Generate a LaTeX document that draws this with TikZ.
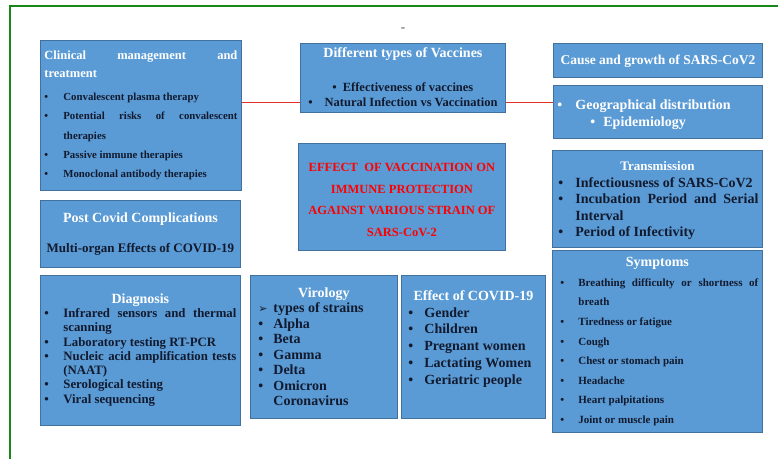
\documentclass[tikz,border=0pt]{standalone}
\usepackage{fontspec}
\setmainfont{Liberation Serif}
\newfontfamily\symfont{DejaVu Sans}

\definecolor{panelfill}{HTML}{5B9BD5}
\definecolor{panelline}{HTML}{41719C}
\definecolor{itemtxt}{HTML}{111A2E}
\definecolor{framegreen}{RGB}{24,134,24}
\definecolor{linkred}{RGB}{226,48,36}

\newlength\bulpad
\newlength\bulw
\newcommand{\fsz}[2]{\fontsize{#1}{#2}\selectfont}
\newcommand{\itm}[2][\textbullet]{\par\hangindent=\dimexpr\bulpad+\bulw\relax\hangafter=1\noindent\hspace*{\bulpad}\makebox[\bulw][l]{#1}#2\par}
\newcommand{\boxtext}[3]{\parbox[t][#2][t]{#1}{\hyphenpenalty=10000\exhyphenpenalty=10000 #3}}

\begin{document}
\begin{tikzpicture}[x=1pt,y=-1pt,
  panel/.style={draw=panelline,fill=panelfill,line width=0.8pt,anchor=north west,
    inner xsep=4pt,inner ysep=0pt,font=\bfseries},
  link/.style={linkred,line width=0.9pt},
  frame/.style={framegreen,line width=2.5pt}]
\useasboundingbox (0,0) rectangle (778,459);
\draw[frame] (10,459) -- (10,6) -- (778,6);
\node[text=black!70,font=\fsz{13}{13}] (dash) at (403,30) {-};

% left column
\node[panel] (clin) at (40,40) {\boxtext{193pt}{150pt}{%
  \vspace*{10pt}{\color{white}\fsz{12.5}{18}Clinical management and\linebreak treatment\par}
  \vspace{4.5pt}\color{itemtxt}\fsz{10.8}{19.2}\setlength\bulpad{0pt}\setlength\bulw{19pt}%
  \itm{Convalescent plasma therapy}
  \itm{Potential risks of convalescent therapies}
  \itm{Passive immune therapies}
  \itm{Monoclonal antibody therapies}}};

% right column, top
\node[panel] (cause) at (553,43) {\boxtext{201pt}{34pt}{\centering
  \vspace*{12pt}\color{white}\fsz{13.5}{16}Cause and growth of SARS-CoV2\par}};
\node[panel] (geo) at (553,85) {\boxtext{201pt}{53pt}{%
  \vspace*{14.3pt}\color{white}\fsz{14}{17}%
  \setlength\bulpad{0pt}\setlength\bulw{18pt}\itm{Geographical distribution}
  \setlength\bulpad{33pt}\setlength\bulw{13pt}\itm{Epidemiology}}};

\coordinate (lk) at (0,102);
\draw[link] (clin.east |- lk) -- (geo.west |- lk);

% centre column
\node[panel] (vacc) at (300,43) {\boxtext{197pt}{69pt}{\centering
  \vspace*{4.5pt}{\color{white}\fsz{14}{16}Different types of Vaccines\par}
  \vspace{19pt}\color{itemtxt}\fsz{12.5}{15}\textbullet\hspace{6pt}Effectiveness of vaccines\par
  \textbullet\hspace{12pt}Natural Infection vs Vaccination\par}};
\node[panel] (effvac) at (298,143) {\boxtext{199pt}{107pt}{\centering
  \vspace*{20pt}\color{red}\fsz{12.5}{21.5}EFFECT\ \ OF VACCINATION ON\\IMMUNE PROTECTION\\
  AGAINST VARIOUS STRAIN OF\\SARS-CoV-2\par}};

\node[panel] (trans) at (552,150) {\boxtext{202pt}{97pt}{%
  \vspace*{11pt}{\centering\color{white}\fsz{13}{16}Transmission\par}
  \vspace{0.5pt}\color{itemtxt}\fsz{14}{16.5}\setlength\bulpad{2pt}\setlength\bulw{17pt}%
  \itm{Infectiousness of SARS-CoV2}
  \itm{Incubation Period and Serial Interval}
  \itm{Period of Infectivity}}};

\node[panel] (post) at (40,200) {\boxtext{192pt}{67pt}{\centering
  \vspace*{12pt}{\color{white}\fsz{14}{16}Post Covid Complications\par}
  \color{itemtxt}\fsz{13}{30}Multi-organ Effects of COVID-19\par}};

% bottom row
\node[panel] (diag) at (40,275) {\boxtext{192pt}{150pt}{%
  \vspace*{18pt}{\centering\color{white}\fsz{14}{16}Diagnosis\par}
  \color{itemtxt}\fsz{12.8}{14.3}\setlength\bulpad{0pt}\setlength\bulw{19pt}%
  \itm{Infrared sensors and thermal scanning}
  \itm{Laboratory testing RT-PCR}
  \itm{Nucleic acid amplification tests (NAAT)}
  \itm{Serological testing}
  \itm{Viral sequencing}}};

\node[panel] (viro) at (250,275) {\boxtext{139pt}{143pt}{%
  \vspace*{12.3pt}{\centering\color{white}\fsz{14}{16}Virology\par}
  \color{itemtxt}\fsz{14}{15.5}\setlength\bulpad{4pt}\setlength\bulw{15pt}%
  \itm[{\symfont\fsz{11}{11}➢}]{types of strains}
  \itm{Alpha}
  \itm{Beta}
  \itm{Gamma}
  \itm{Delta}
  \itm{Omicron}
  \itm[]{Coronavirus}}};

\node[panel] (effcov) at (401,275) {\boxtext{136pt}{143pt}{%
  \vspace*{15pt}{\centering\color{white}\fsz{14}{16}Effect of COVID-19\par}
  \color{itemtxt}\fsz{14}{16.8}\setlength\bulpad{3pt}\setlength\bulw{16pt}%
  \itm{Gender}
  \itm{Children}
  \itm{Pregnant women}
  \itm{Lactating Women}
  \itm{Geriatric people}}};

\node[panel] (symp) at (552,250) {\boxtext{202pt}{182pt}{%
  \vspace*{7pt}{\centering\color{white}\fsz{14}{16}Symptoms\par}
  \color{itemtxt}\fsz{11}{19.6}\setlength\bulpad{4pt}\setlength\bulw{18pt}%
  \itm{Breathing difficulty or shortness of breath}
  \itm{Tiredness or fatigue}
  \itm{Cough}
  \itm{Chest or stomach pain}
  \itm{Headache}
  \itm{Heart palpitations}
  \itm{Joint or muscle pain}}};
\end{tikzpicture}
\end{document}
